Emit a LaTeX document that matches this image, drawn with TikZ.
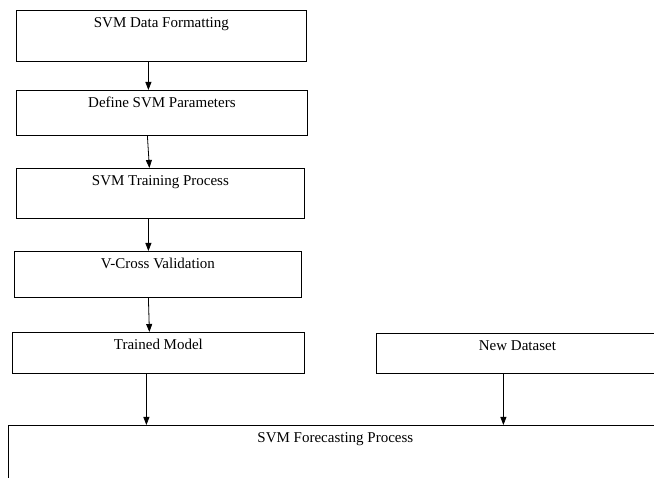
\documentclass[tikz,border=0pt]{standalone}
\usepackage{fontspec}
\setmainfont{Liberation Serif}
\usepackage{tikz}
\usetikzlibrary{arrows.meta}
\tikzset{blk/.style={draw, line width=0.8pt, inner sep=0, anchor=north west, text height=17.5pt, font=\fontsize{15}{18}\selectfont}}
\tikzset{go/.style={line width=0.8pt, -{Triangle[width=6pt,length=8pt]}}}

\begin{document}
\begin{tikzpicture}[x=1pt,y=-1pt]
    \useasboundingbox (0,0) rectangle (654,478);

    \node[blk, minimum width=290pt, text depth=33.5pt] (fmt) at (16,10) {SVM Data Formatting};
    \node[blk, minimum width=291pt, text depth=27.5pt] (param) at (16,90) {Define SVM Parameters};
    \node[blk, minimum width=288pt, text depth=32.5pt] (train) at (16,168) {SVM Training Process};
    \node[blk, minimum width=287pt, text depth=28.5pt] (valid) at (14,251) {V-Cross Validation};
    \node[blk, minimum width=292pt, text depth=23.5pt] (model) at (12,332) {Trained Model};
    \node[blk, minimum width=282pt, text depth=22.5pt] (newdata) at (376,333) {New Dataset};
    \node[blk, minimum width=654pt, text depth=62.5pt] (forecast) at (8,425) {SVM Forecasting Process};

    \draw[go] ([xshift=-13pt]fmt.south) -- ([xshift=-13.5pt]param.north);
    \draw[go] ([xshift=-14.5pt]param.south) -- ([xshift=-11pt]train.north);
    \draw[go] ([xshift=-12pt]train.south) -- ([xshift=-9.5pt]valid.north);
    \draw[go] ([xshift=-9.5pt]valid.south) -- ([xshift=-9pt]model.north);
    \draw[go] ([xshift=-12pt]model.south) -- ([xshift=-12pt]model.south |- forecast.north);
    \draw[go] ([xshift=-14pt]newdata.south) -- ([xshift=-14pt]newdata.south |- forecast.north);

  \end{tikzpicture}
\end{document}
